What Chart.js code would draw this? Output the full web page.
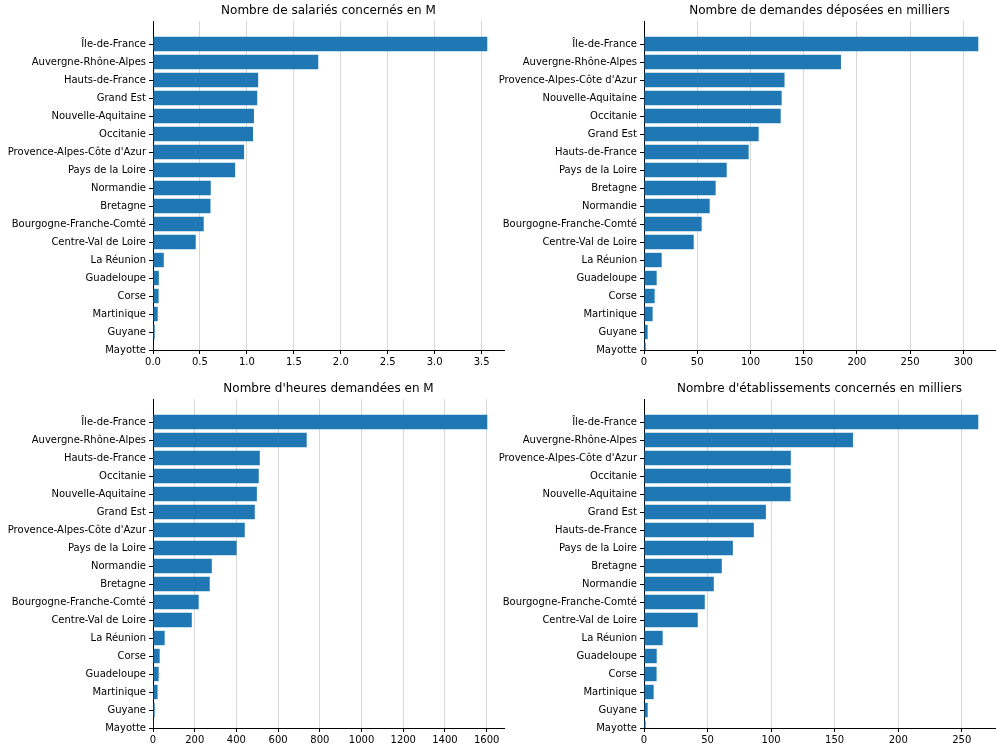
<!DOCTYPE html>
<html>
<head>
<meta charset="utf-8">
<script src="https://cdn.jsdelivr.net/npm/chart.js@4"></script>
<style>
  html, body { margin: 0; padding: 0; overflow: hidden; background: #fff; width: 1001px; height: 748px; }
  .box { position: absolute; width: 505px; height: 374px; }
</style>
</head>
<body>
<div class="box" style="left:0px;top:0px"><canvas id="c1"></canvas></div>
<div class="box" style="left:491px;top:0px"><canvas id="c2"></canvas></div>
<div class="box" style="left:0px;top:378px"><canvas id="c3"></canvas></div>
<div class="box" style="left:491px;top:378px"><canvas id="c4"></canvas></div>
<script>
// ---- Data ----
const titleSalaries = "Nombre de salariés concernés en M";
const regionsSalaries = ["Île-de-France", "Auvergne-Rhône-Alpes", "Hauts-de-France", "Grand Est", "Nouvelle-Aquitaine", "Occitanie", "Provence-Alpes-Côte d'Azur", "Pays de la Loire", "Normandie", "Bretagne", "Bourgogne-Franche-Comté", "Centre-Val de Loire", "La Réunion", "Guadeloupe", "Corse", "Martinique", "Guyane", "Mayotte"];
const valuesSalaries = [3.56, 1.76, 1.12, 1.11, 1.075, 1.065, 0.97, 0.875, 0.615, 0.612, 0.54, 0.455, 0.115, 0.062, 0.06, 0.05, 0.018, 0.003];

const titleDemandes = "Nombre de demandes déposées en milliers";
const regionsDemandes = ["Île-de-France", "Auvergne-Rhône-Alpes", "Provence-Alpes-Côte d'Azur", "Nouvelle-Aquitaine", "Occitanie", "Grand Est", "Hauts-de-France", "Pays de la Loire", "Bretagne", "Normandie", "Bourgogne-Franche-Comté", "Centre-Val de Loire", "La Réunion", "Guadeloupe", "Corse", "Martinique", "Guyane", "Mayotte"];
const valuesDemandes = [314, 185, 132, 129.3, 128.4, 107.7, 98.3, 77.7, 67.3, 61.7, 54.2, 46.7, 16.6, 11.9, 10.0, 8.1, 3.4, 1.6];

const titleHeures = "Nombre d'heures demandées en M";
const regionsHeures = ["Île-de-France", "Auvergne-Rhône-Alpes", "Hauts-de-France", "Occitanie", "Nouvelle-Aquitaine", "Grand Est", "Provence-Alpes-Côte d'Azur", "Pays de la Loire", "Normandie", "Bretagne", "Bourgogne-Franche-Comté", "Centre-Val de Loire", "La Réunion", "Corse", "Guadeloupe", "Martinique", "Guyane", "Mayotte"];
const valuesHeures = [1603, 737, 512, 507, 498, 488, 440, 401, 282, 272, 219, 186, 56, 32, 27, 22, 8, 1];

const titleEtab = "Nombre d'établissements concernés en milliers";
const regionsEtab = ["Île-de-France", "Auvergne-Rhône-Alpes", "Provence-Alpes-Côte d'Azur", "Occitanie", "Nouvelle-Aquitaine", "Grand Est", "Hauts-de-France", "Pays de la Loire", "Bretagne", "Normandie", "Bourgogne-Franche-Comté", "Centre-Val de Loire", "La Réunion", "Guadeloupe", "Corse", "Martinique", "Guyane", "Mayotte"];
const valuesEtab = [263, 164.4, 115.5, 115.4, 115.3, 95.9, 86.4, 69.9, 61.2, 54.9, 47.8, 42.3, 14.7, 10.0, 9.9, 7.6, 2.9, 1.3];

// ---- Drawing ----
const FONT = "'DejaVu Sans', sans-serif";
Chart.defaults.font.family = FONT;
Chart.defaults.color = "#000";

function makeChart(id, title, regions, values, step, decimals) {
  const maxX = Math.max(...values) * 1.05;
  new Chart(document.getElementById(id), {
    type: "bar",
    data: {
      datasets: [{
        data: values.map((v, i) => ({ x: v, y: i })),
        backgroundColor: "#1f77b4",
        borderWidth: 0,
        barPercentage: 0.8,
        categoryPercentage: 1.0
      }]
    },
    options: {
      indexAxis: "y",
      responsive: true,
      maintainAspectRatio: false,
      animation: false,
      layout: { padding: { left: 0, right: 1, top: 0, bottom: 4 } },
      plugins: {
        legend: { display: false },
        tooltip: { enabled: false },
        title: {
          display: true,
          text: title,
          fullSize: false,
          font: { family: FONT, size: 12, weight: "normal" },
          color: "#000",
          padding: { top: 3.5, bottom: 3.1 }
        }
      },
      scales: {
        y: {
          type: "linear",
          reverse: true,
          offset: false,
          min: -1.28,
          max: regions.length - 1,
          afterBuildTicks: (s) => { s.ticks = regions.map((_, i) => ({ value: i })); },
          afterFit: (s) => { s.width = 153; },
          ticks: {
            autoSkip: false,
            padding: 3,
            font: { family: FONT, size: 10 },
            color: "#000",
            callback: (v) => regions[v]
          },
          grid: { offset: false, drawOnChartArea: false, drawTicks: true, tickLength: 4, tickColor: "#000" },
          border: { color: "#000", width: 1 }
        },
        x: {
          type: "linear",
          min: 0,
          max: maxX,
          z: 1,
          afterFit: (s) => { s.height = 20; },
          ticks: {
            stepSize: step,
            includeBounds: false,
            autoSkip: false,
            maxRotation: 0,
            padding: 2,
            font: { family: FONT, size: 10 },
            color: "#000",
            callback: (v) => Number(v).toFixed(decimals)
          },
          grid: { offset: false, color: "rgba(176,176,176,0.5)", lineWidth: 1, drawTicks: true, tickLength: 4, tickColor: "#000" },
          border: { color: "#000", width: 1 }
        }
      }
    }
  });
}

makeChart("c1", titleSalaries, regionsSalaries, valuesSalaries, 0.5, 1);
makeChart("c2", titleDemandes, regionsDemandes, valuesDemandes, 50, 0);
makeChart("c3", titleHeures, regionsHeures, valuesHeures, 200, 0);
makeChart("c4", titleEtab, regionsEtab, valuesEtab, 50, 0);
</script>
</body>
</html>
